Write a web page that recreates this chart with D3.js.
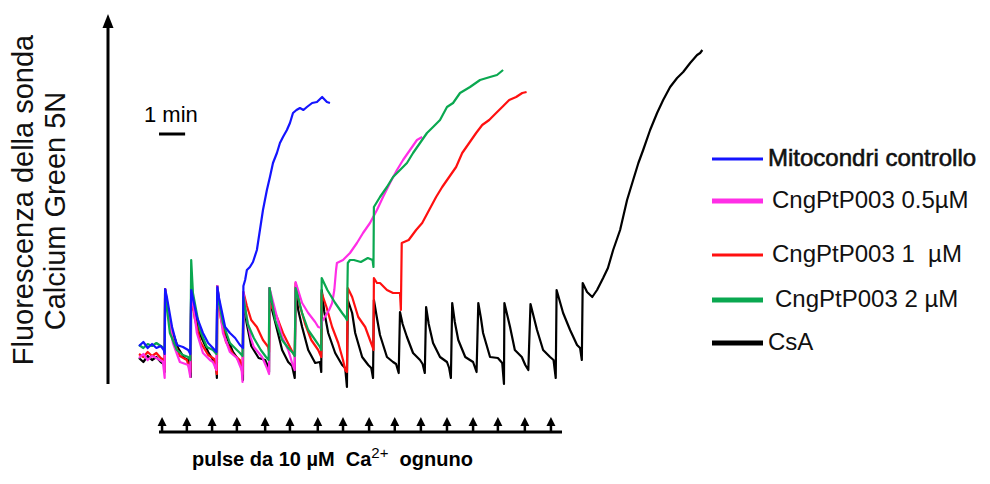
<!DOCTYPE html>
<html>
<head>
<meta charset="utf-8">
<script src="https://cdn.jsdelivr.net/npm/d3@7"></script>
<style>
  body { margin: 0; background: #fff; }
  svg { display: block; font-family: "Liberation Sans", Arial, sans-serif; }
</style>
</head>
<body>
<svg width="990" height="484"></svg>
<script>
// time in seconds, fluorescence in arbitrary units
const seriesNames = ["Mitocondri controllo", "CngPtP003 0.5\u00b5M", "CngPtP003 1  \u00b5M", "CngPtP003 2 \u00b5M", "CsA"];

const blue = [[0,22],[10,24],[20,21],[30,23],[40,21],[50,22],[57,20],[59,18],
  [60,50.5],[64,46.5],[76,31.5],[87,22.5],[101,21.5],[113,20],[118,18],
  [120,50],[133,36.5],[147,28.5],[159,23.5],[170,21],[178,19],
  [180,51.5],[184,46],[198,31.5],[209,28.5],[221,26],[232,22.5],[239,21],
  [240,52],[244,55],[248,60],[255,61.5],[262,64],[271,70],[278,80],[285,90],[294,100],[301,106.5],
  [308,113.5],[317,118.5],[324,123.5],[331,126.5],[340,130],[347,133.5],[354,138.5],[362,140],
  [370,141],[378,140],[386,141.5],[398,143.5],[409,144],[421,146.5],[432,144],[439,143.5]];

const magenta = [[0,16],[10,18],[20,15],[30,17],[40,16],[48,15],[55,14],[59,6],
  [60,50.5],[64,45],[78,23.5],[94,14],[113,12.5],[118,6.5],
  [120,50.5],[133,28.5],[147,18.5],[163,15],[170,14],[178,10],
  [180,52],[186,40],[193,28.5],[209,19],[225,16],[236,10],[238,4],
  [240,49],[246,38],[257,26],[264,21.5],[283,16.5],[294,11],[299,8],
  [300,51],[313,40],[329,26.5],[343,20],[352,13.5],[358,10],
  [360,54],[375,43.5],[389,38.5],[405,34],[412,31.5],[419,31],
  [420,34],[427,36.5],[437,40],[444,43.5],[449,50],[453,60],[455,63.5],[469,65],[485,68.5],
  [501,73.5],[515,78.5],[531,83.5],[547,90],[561,96.5],[577,103.5],[593,110],[607,115],
  [623,120],[639,125],[651,126.5]];

const red = [[0,18],[10,16.5],[20,19],[30,17],[40,18.5],[50,16],[57,15],[59,10],
  [60,50.5],[66,40],[78,25],[94,17],[110,15],[118,9],
  [120,49],[128,36],[141,24],[159,17.5],[173,15.5],[179,8],
  [180,49],[188,36],[200,24],[216,18],[232,15],[238,8],
  [240,49],[248,42],[258,35],[271,31.5],[285,25],[297,21.5],[299,19],
  [300,43.5],[317,36.5],[331,28.5],[347,21.5],[354,18.5],[358,17],
  [360,53.5],[370,42],[382,33],[396,25],[412,20],[419,16.5],
  [420,48.5],[431,41.5],[444,31.5],[458,23.5],[469,15],[474,10],[478,9],
  [480,51],[490,46.5],[504,36.5],[520,31.5],[531,25],[537,21.5],[539,20],
  [540,56],[547,53.5],[554,53.5],[570,50],[584,48.5],[593,48.5],[600,48.5],[602,40],
  [604,73.5],[620,75],[637,80],[651,83.5],[667,90],[683,96.5],[697,101.5],[713,106.5],
  [729,111.5],[743,118.5],[759,123.5],[775,128.5],[789,132.5],[805,135],[821,138.5],
  [835,141.5],[851,145],[867,146.5],[881,148.5],[891,149]];

const green = [[0,22.5],[10,21],[20,23],[30,22],[40,23.5],[50,22],[57,21],[59,19],
  [60,48.5],[71,28.5],[87,20],[101,17.5],[113,16.5],[118,15],
  [120,65],[124,48.5],[140,30],[156,21.5],[170,20],[178,18],
  [180,48.5],[193,33.5],[209,23.5],[225,20],[232,18.5],[238,17],
  [240,46.5],[250,33],[264,26],[280,20],[292,16.5],[298,15],
  [300,51],[313,35],[329,25],[343,21],[354,18.5],[358,17],
  [360,51],[375,38.5],[389,30],[405,25],[416,21.5],[419,20],
  [420,56],[433,50],[451,43.5],[467,38.5],[474,36.5],[478,35],
  [480,63.5],[485,65],[494,65],[510,64],[526,66],[537,65],[539,61.5],
  [540,91.5],[554,96.5],[570,101.5],[584,106.5],[600,110],[616,113.5],[630,118.5],
  [646,123.5],[662,128.5],[676,131.5],[692,135],[708,141.5],[722,143.5],[738,148.5],
  [761,151.5],[784,155],[807,156.5],[823,157.5],[837,160]];

const black = [[0,16],[10,14],[20,17],[30,15],[40,16.5],[50,14],[57,13],[59,9],
  [60,50.5],[66,40],[76,30],[90,21],[104,16],[113,15],[117,12],[119,6.5],
  [120,51],[126,40],[141,27.5],[159,19],[173,14],[178,10],[179,6],
  [180,52],[186,41],[200,27.5],[216,19],[232,14],[237,11],[239,5],
  [240,47],[247,34],[258,22],[275,16],[290,15],[296,12],[299,9],
  [300,51],[306,40],[313,34],[329,20],[343,14],[352,12],[358,6],
  [360,51.5],[366,40],[375,31.5],[389,20],[405,13.5],[416,14],[419,9],
  [420,50],[426,39],[435,28.5],[451,18.5],[467,12.5],[474,11],[478,1.5],
  [480,45],[490,38.5],[497,28.5],[513,16.5],[527,12.5],[534,11],[538,6],
  [540,45],[547,36],[554,27.5],[570,16.5],[584,14],[591,13],[597,8.5],
  [600,39],[606,33],[616,26.5],[630,18.5],[646,15],[652,13],[657,8.5],
  [660,41.5],[666,33],[676,23.5],[692,16.5],[708,14],[713,11],[717,6],
  [720,43.5],[726,34],[734,25],[750,16.5],[768,14],[776,9],
  [780,43.5],[786,36],[791,28.5],[807,16.5],[825,16],[835,13.5],[839,3],
  [840,43.5],[853,31.5],[864,20],[880,16.5],[888,12.5],[895,10],
  [900,43],[915,30],[929,20],[945,16.5],[953,15],[958,6],
  [960,50],[975,38.5],[991,30],[1007,22.5],[1014,21],[1018,15],
  [1020,53.5],[1030,49],[1042,46.5],[1053,50],[1067,56],[1078,61],[1090,70],[1106,80],
  [1122,95],[1136,105],[1148,113.5],[1159,120],[1175,130],[1191,138.5],[1205,145],
  [1221,151.5],[1237,156],[1251,159],[1267,163.5],[1283,167.5],[1290,168.5],[1295,170]];

// Ca2+ additions (s)
const pulses = [53,110,168,225,290,347,411,469,529,588,648,708,768,825,887,947];

const svg = d3.select("svg");
const x = d3.scaleLinear().domain([0, 1300]).range([139, 704.5]);
const y = d3.scaleLinear().domain([0, 180]).range([390, 30]);
const colors = ["#1414ff", "#ff2ee6", "#ff1010", "#0aa850", "#000000"];
const legendWidths = [3, 5, 3, 5, 5];

svg.append("rect").attr("width", 990).attr("height", 484).attr("fill", "#fff");

const line = d3.line().x(d => x(d[0])).y(d => y(d[1]));

const traces = [blue, magenta, red, green, black];
// black at the back, blue in front
const drawOrder = [4, 2, 1, 3, 0];
svg.append("g")
  .selectAll("path")
  .data(drawOrder)
  .join("path")
  .attr("d", i => line(traces[i]))
  .attr("fill", "none")
  .attr("stroke", i => colors[i])
  .attr("stroke-width", 2.2)
  .attr("stroke-linejoin", "round");

// vertical arrow axis
svg.append("line")
  .attr("x1", 108).attr("x2", 108).attr("y1", 384).attr("y2", 24)
  .attr("stroke", "#000").attr("stroke-width", 3);
svg.append("path")
  .attr("d", "M108,14 L102.5,28 L113.5,28 Z")
  .attr("fill", "#000");

// y label
const ylab = svg.append("g").attr("font-size", 29).attr("fill", "#111").attr("text-anchor", "middle");
ylab.append("text")
  .attr("transform", "translate(33,200) rotate(-90)")
  .text("Fluorescenza della sonda");
ylab.append("text")
  .attr("transform", "translate(65,211) rotate(-90)")
  .text("Calcium Green 5N");

// scale bar: 1 min
svg.append("text")
  .attr("x", 144).attr("y", 122)
  .attr("font-size", 22).attr("fill", "#000")
  .text("1 min");
svg.append("line")
  .attr("x1", x(46)).attr("x2", x(106))
  .attr("y1", 134).attr("y2", 134)
  .attr("stroke", "#000").attr("stroke-width", 3);

// pulse arrows
svg.append("line")
  .attr("x1", 159).attr("x2", 562)
  .attr("y1", 432).attr("y2", 432)
  .attr("stroke", "#000").attr("stroke-width", 3);
const arr = svg.append("g").selectAll("g").data(pulses).join("g")
  .attr("transform", d => `translate(${x(d)},0)`);
arr.append("line")
  .attr("y1", 432).attr("y2", 424)
  .attr("stroke", "#000").attr("stroke-width", 2.5);
arr.append("path")
  .attr("d", "M0,417 L-4.5,426 L4.5,426 Z")
  .attr("fill", "#000");

const bottom = svg.append("text")
  .attr("x", 192).attr("y", 466)
  .attr("xml:space", "preserve")
  .style("white-space", "pre")
  .attr("font-size", 20).attr("font-weight", "bold").attr("fill", "#000");
bottom.append("tspan").text("pulse da 10 \u00b5M  Ca");
bottom.append("tspan").attr("dy", -8).attr("font-size", 15).attr("font-weight", "normal").text("2+");
bottom.append("tspan").attr("dy", 8).text("  ognuno");

// legend
const legendY = [159, 201, 255, 300, 343];
const legendTextX = [768, 772, 772, 775, 768];
const lg = svg.append("g").selectAll("g").data(seriesNames).join("g");
lg.append("line")
  .attr("x1", 712).attr("x2", 763)
  .attr("y1", (d, i) => legendY[i]).attr("y2", (d, i) => legendY[i])
  .attr("stroke", (d, i) => colors[i])
  .attr("stroke-width", (d, i) => legendWidths[i]);
lg.append("text")
  .attr("x", (d, i) => legendTextX[i])
  .attr("y", (d, i) => legendY[i] + 7)
  .attr("font-size", 24)
  .style("white-space", "pre")
  .attr("fill", "#111")
  .attr("stroke", (d, i) => i === 0 ? "#111" : "none")
  .attr("stroke-width", 0.6)
  .text(d => d);
</script>
</body>
</html>
